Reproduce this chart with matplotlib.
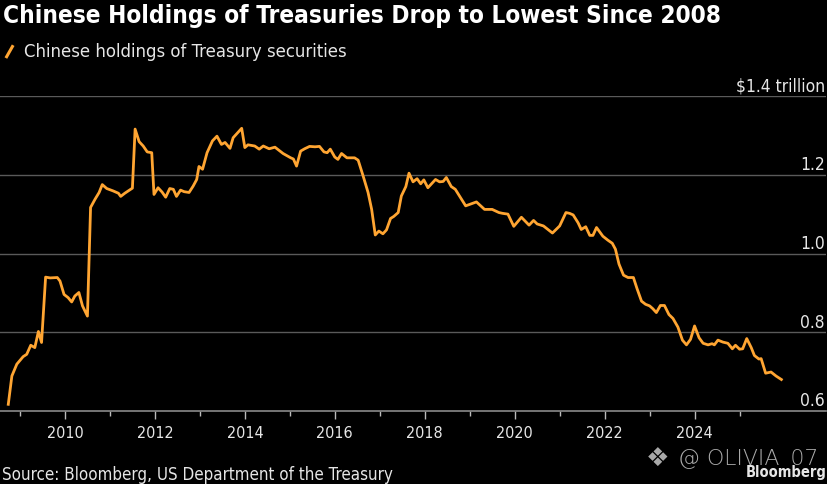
import matplotlib
matplotlib.use("Agg")
import matplotlib.pyplot as plt
import matplotlib.transforms as mtransforms

# values (fractional year, $ trillion)
years = [2008.74, 2008.82, 2008.93, 2009.07, 2009.15, 2009.24, 2009.33, 2009.41, 2009.48, 2009.57,
         2009.67, 2009.83, 2009.89, 2009.98, 2010.07, 2010.15, 2010.22, 2010.31, 2010.39, 2010.50,
         2010.57, 2010.67, 2010.76, 2010.83, 2010.93, 2011.07, 2011.19, 2011.24, 2011.33, 2011.50,
         2011.56, 2011.65, 2011.74, 2011.83, 2011.93, 2011.98, 2012.07, 2012.16, 2012.24, 2012.33,
         2012.41, 2012.48, 2012.57, 2012.65, 2012.76, 2012.85, 2012.93, 2012.98, 2013.06, 2013.16,
         2013.28, 2013.38, 2013.48, 2013.56, 2013.67, 2013.74, 2013.93, 2014.00, 2014.07, 2014.22,
         2014.32, 2014.41, 2014.54, 2014.67, 2014.85, 2015.02, 2015.08, 2015.15, 2015.24, 2015.33,
         2015.44, 2015.56, 2015.66, 2015.76, 2015.83, 2015.90, 2016.00, 2016.07, 2016.15, 2016.27,
         2016.44, 2016.52, 2016.63, 2016.74, 2016.82, 2016.90, 2016.98, 2017.07, 2017.15, 2017.24,
         2017.31, 2017.41, 2017.48, 2017.58, 2017.65, 2017.74, 2017.83, 2017.91, 2017.98, 2018.07,
         2018.24, 2018.33, 2018.41, 2018.48, 2018.59, 2018.68, 2018.91, 2019.15, 2019.33, 2019.50,
         2019.65, 2019.73, 2019.85, 2019.98, 2020.15, 2020.32, 2020.42, 2020.50, 2020.64, 2020.84,
         2021.00, 2021.14, 2021.22, 2021.30, 2021.41, 2021.48, 2021.58, 2021.67, 2021.74, 2021.82,
         2021.96, 2022.07, 2022.17, 2022.24, 2022.32, 2022.42, 2022.52, 2022.64, 2022.72, 2022.82,
         2022.91, 2023.00, 2023.07, 2023.15, 2023.24, 2023.33, 2023.43, 2023.52, 2023.63, 2023.73,
         2023.82, 2023.91, 2024.00, 2024.10, 2024.19, 2024.30, 2024.39, 2024.44, 2024.52, 2024.63,
         2024.74, 2024.84, 2024.91, 2025.00, 2025.07, 2025.16, 2025.26, 2025.33, 2025.43, 2025.48,
         2025.58, 2025.70, 2025.81, 2025.93]
holdings = [0.617, 0.689, 0.719, 0.738, 0.744, 0.767, 0.761, 0.802, 0.774, 0.940,
            0.938, 0.939, 0.930, 0.896, 0.888, 0.877, 0.892, 0.901, 0.867, 0.841,
            1.117, 1.138, 1.155, 1.175, 1.165, 1.159, 1.153, 1.145, 1.153, 1.166,
            1.316, 1.284, 1.273, 1.258, 1.256, 1.150, 1.167, 1.156, 1.143, 1.165,
            1.163, 1.145, 1.161, 1.157, 1.155, 1.171, 1.188, 1.221, 1.214, 1.256,
            1.286, 1.298, 1.277, 1.282, 1.267, 1.294, 1.318, 1.269, 1.276, 1.273,
            1.265, 1.273, 1.266, 1.270, 1.254, 1.243, 1.240, 1.222, 1.260, 1.266,
            1.272, 1.271, 1.272, 1.258, 1.256, 1.265, 1.245, 1.239, 1.254, 1.243,
            1.243, 1.237, 1.197, 1.155, 1.112, 1.047, 1.057, 1.050, 1.060, 1.089,
            1.094, 1.104, 1.146, 1.170, 1.204, 1.182, 1.190, 1.177, 1.187, 1.167,
            1.188, 1.182, 1.183, 1.193, 1.170, 1.163, 1.121, 1.131, 1.112, 1.112,
            1.104, 1.102, 1.100, 1.069, 1.092, 1.072, 1.084, 1.075, 1.070, 1.052,
            1.070, 1.104, 1.102, 1.098, 1.078, 1.061, 1.068, 1.046, 1.046, 1.066,
            1.044, 1.034, 1.026, 1.011, 0.973, 0.945, 0.939, 0.939, 0.911, 0.879,
            0.871, 0.867, 0.860, 0.850, 0.868, 0.868, 0.845, 0.835, 0.813, 0.780,
            0.768, 0.782, 0.816, 0.786, 0.772, 0.768, 0.771, 0.768, 0.780, 0.775,
            0.772, 0.758, 0.767, 0.757, 0.758, 0.784, 0.761, 0.741, 0.732, 0.733,
            0.696, 0.699, 0.689, 0.680]

major_years = [2010, 2012, 2014, 2016, 2018, 2020, 2022, 2024]
minor_years = [2009, 2011, 2013, 2015, 2017, 2019, 2021, 2023, 2025]
ytick_vals = [0.6, 0.8, 1.0, 1.2, 1.4]
ytick_labels = ["0.6", "0.8", "1.0", "1.2", "$1.4 trillion"]

orange = "#FFA532"
bg = "#000000"
txt = "#e6e6e6"
body = dict(family=["DejaVu Sans"], fontstretch="condensed", color=txt)

fig = plt.figure(figsize=(8.28, 4.85), dpi=100, facecolor=bg)
ax = fig.add_axes([0.0, 0.1505, 0.998, 0.6495])
ax.set_facecolor(bg)

ax.plot(years, holdings, color=orange, lw=2.0, solid_joinstyle="round", zorder=3)

ax.set_xlim(2008.556, 2026.93)
ax.set_ylim(0.6, 1.4)

for v in ytick_vals[1:]:
    ax.axhline(v, color="#5a5a5a", lw=1.0, zorder=1)

for s in ["top", "left", "right"]:
    ax.spines[s].set_visible(False)
ax.spines["bottom"].set_color("#8a8a8a")
ax.spines["bottom"].set_linewidth(1.2)

ax.set_xticks(major_years)
ax.set_xticklabels([str(y) for y in major_years], fontsize=11.5, **body)
ax.set_xticks(minor_years, minor=True)
ax.tick_params(axis="x", which="major", length=6, width=1.0, color="#bbbbbb", pad=4)
ax.tick_params(axis="x", which="minor", length=3.5, width=1.0, color="#bbbbbb")
ax.set_yticks([])

trans = mtransforms.blended_transform_factory(ax.transAxes, ax.transData)
for v, lab in zip(ytick_vals, ytick_labels):
    ax.text(0.998, v + 0.004, lab, transform=trans, ha="right", va="bottom",
            fontsize=12.5, **body)

fig.text(0.004, 0.966, "Chinese Holdings of Treasuries Drop to Lowest Since 2008",
         fontsize=17.5, fontweight="bold", color="white", ha="left", va="center",
         family=["DejaVu Sans"], fontstretch="condensed")

# legend entry: short orange slash + label
fig.add_artist(plt.Line2D([0.008, 0.015], [0.881, 0.902], color=orange, lw=2.2,
                          transform=fig.transFigure))
fig.text(0.029, 0.892, "Chinese holdings of Treasury securities", fontsize=13.2,
         ha="left", va="center", **body)

fig.text(0.003, 0.021, "Source: Bloomberg, US Department of the Treasury", fontsize=12.2,
         ha="left", va="center", **body)

# watermark overlay
fig.text(0.794, 0.053, "\u2756", fontsize=19, color="#c8c8c8", alpha=0.85,
         ha="center", va="center", family=["DejaVu Sans"])
fig.text(0.988, 0.054, "@ OLIVIA_07", fontsize=15.8, color="#c8c8c8", alpha=0.85,
         ha="right", va="center", family=["DejaVu Sans"], fontweight="light")
fig.text(0.998, 0.026, "Bloomberg", fontsize=10.5, fontweight="bold", color=txt,
         ha="right", va="center", family=["DejaVu Sans"], fontstretch="condensed")

fig.savefig("out.png", dpi=100, facecolor=bg)
